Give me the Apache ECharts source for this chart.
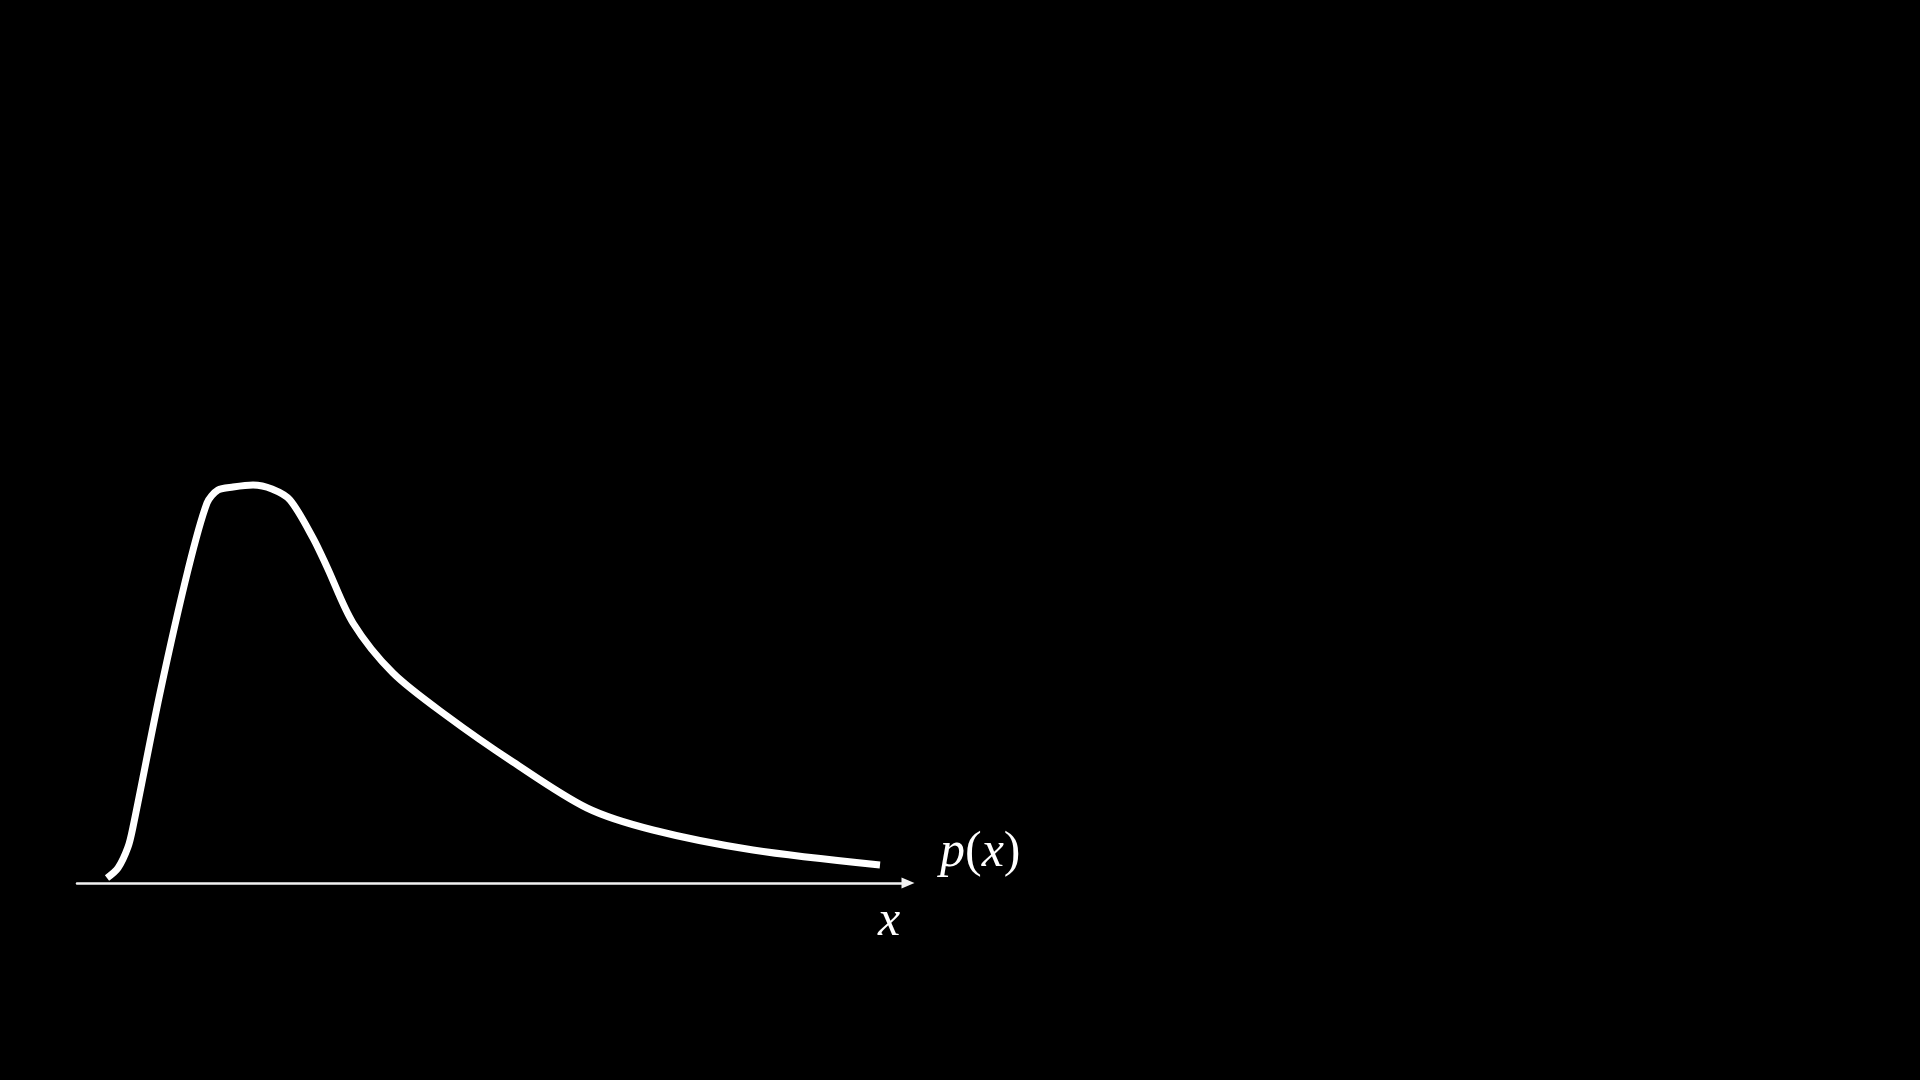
<!DOCTYPE html>
<html>
<head>
<meta charset="utf-8">
<script src="https://cdn.jsdelivr.net/npm/echarts@6/dist/echarts.min.js"></script>
<style>
  html, body { margin: 0; padding: 0; background: #000; }
  #chart { width: 1920px; height: 1080px; }
</style>
</head>
<body>
<div id="chart"></div>
<script>
  // density curve (x along the axis, y above it)
  var xValues = [30, 41, 51, 56, 83, 111, 130, 141, 156, 176, 195, 213, 236, 250, 276, 316, 370, 436, 510, 576, 676, 803];
  var yValues = [5, 15, 36, 56, 190, 313, 380, 393, 396, 398, 394, 383, 345, 316, 260, 210, 167, 121, 75, 53, 33, 18];
  var curveName = 'p(x)';
  var axisName = 'x';

  var points = xValues.map(function (v, i) { return [v, yValues[i]]; });

  var chart = echarts.init(document.getElementById('chart'));
  var option = {
    backgroundColor: '#000',
    animation: false,
    grid: { left: 77, top: 483, width: 831, height: 400 },
    xAxis: {
      type: 'value',
      min: 0,
      max: 831,
      axisLine: {
        show: true,
        onZero: false,
        symbol: ['none', 'triangle'],
        symbolSize: [11, 13],
        lineStyle: { color: '#f2f2f2', width: 2.5 }
      },
      axisTick: { show: false },
      axisLabel: { show: false },
      splitLine: { show: false }
    },
    yAxis: {
      type: 'value',
      min: 0,
      max: 400,
      show: false
    },
    series: [{
      name: curveName,
      type: 'line',
      data: points,
      smooth: 0.3,
      showSymbol: false,
      lineStyle: { color: '#fff', width: 7, cap: 'butt' },
      endLabel: {
        show: true,
        formatter: '{i|p}{u|(}{i|x}{u|)}',
        distance: 60,
        offset: [0, -12],
        rich: {
          i: { fontFamily: 'Liberation Serif', fontStyle: 'italic', fontSize: 50, color: '#fff' },
          u: { fontFamily: 'Liberation Serif', fontSize: 50, color: '#fff' }
        }
      }
    }],
    graphic: [{
      type: 'text',
      left: 878,
      top: 897,
      style: {
        text: axisName,
        fill: '#fff',
        font: 'italic 50px "Liberation Serif"'
      }
    }]
  };
  chart.setOption(option);
</script>
</body>
</html>
